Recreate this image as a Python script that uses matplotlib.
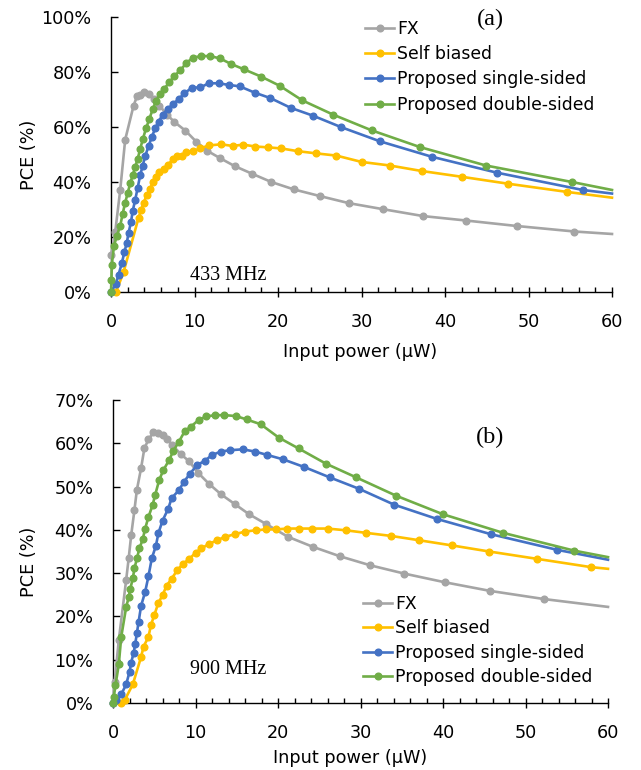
import matplotlib
matplotlib.use("Agg")
import matplotlib.pyplot as plt
from matplotlib.ticker import MultipleLocator, FuncFormatter

plt.rcParams['font.family'] = ['DejaVu Sans']

# ---------------- data (a) 433 MHz ----------------
fx_a_x = [0.05, 0.5, 1.1, 1.7, 2.7, 3.1, 3.5, 4.0, 4.5, 5.1, 5.8, 6.7, 7.6, 8.9, 10.2, 11.5, 13.1, 14.8, 16.9,
          19.2, 21.9, 25.0, 28.5, 32.6, 37.4, 42.5, 48.6, 55.5, 60]
fx_a_y = [13.5, 21.7, 37.0, 55.4, 67.7, 71.1, 71.6, 72.9, 72.0, 70.3, 67.8, 64.5, 61.8, 58.7, 54.7, 51.4, 48.6, 45.8,
          43.0, 40.0, 37.3, 34.9, 32.3, 30.1, 27.6, 26.0, 24.0, 22.0, 21.1]

sb_a_x = [0.6, 1.5, 3.3, 3.6, 3.9, 4.3, 4.7, 5.0, 5.4, 5.8, 6.3, 6.8, 7.4, 7.9, 8.5, 9.0, 9.8, 10.7, 11.7, 13.2,
          14.6, 15.8, 17.3, 18.8, 20.4, 22.4, 24.6, 27.0, 30.0, 33.4, 37.2, 42.0, 47.5, 54.6, 60]
sb_a_y = [0, 7.2, 27.0, 29.8, 32.5, 35.2, 37.6, 40.0, 42.0, 43.5, 44.8, 46.2, 48.2, 49.4, 49.6, 51.0, 51.2, 52.2,
          53.3, 53.7, 53.1, 53.6, 52.9, 52.6, 52.2, 51.2, 50.4, 49.6, 47.3, 46.0, 44.0, 41.9, 39.4, 36.4, 34.3]

ss_a_x = [0, 0.6, 0.9, 1.3, 1.6, 1.9, 2.1, 2.4, 2.6, 2.9, 3.2, 3.5, 3.8, 4.1, 4.5, 4.9, 5.3, 5.7, 6.2, 6.8,
          7.4, 8.1, 8.8, 9.7, 10.7, 11.7, 12.9, 14.1, 15.4, 17.2, 19.1, 21.5, 24.2, 27.6, 32.2, 38.4, 46.2, 56.5, 60]
ss_a_y = [0, 3.0, 6.3, 10.5, 14.5, 18.0, 21.5, 25.5, 29.5, 33.5, 38.0, 42.5, 46.0, 49.5, 53.0, 56.5, 59.5, 62.0,
          64.5, 66.5, 68.3, 70.1, 72.3, 74.3, 74.4, 75.9, 75.9, 75.3, 74.8, 72.5, 70.5, 67.0, 64.1, 59.9, 54.8,
          49.2, 43.4, 37.1, 35.8]

ds_a_x = [0, 0.05, 0.1, 0.35, 0.7, 1.1, 1.4, 1.7, 2.0, 2.3, 2.6, 2.9, 3.2, 3.5, 3.8, 4.2, 4.6, 5.0, 5.4, 5.9,
          6.4, 7.0, 7.6, 8.3, 9.0, 9.8, 10.8, 11.8, 13.0, 14.4, 15.9, 18.0, 20.2, 22.9, 26.6, 31.2, 37.0, 44.9,
          55.2, 60]
ds_a_y = [0, 4.2, 10.0, 16.6, 20.5, 24.0, 28.5, 32.5, 36.0, 39.5, 42.5, 45.5, 48.5, 52.0, 55.5, 59.5, 63.0, 66.5,
          69.5, 72.0, 74.0, 76.3, 78.6, 80.6, 83.2, 85.2, 85.8, 85.8, 85.0, 82.9, 81.0, 78.3, 75.0, 69.7, 64.5,
          58.8, 52.7, 46.0, 40.0, 37.1]

# ---------------- data (b) 900 MHz ----------------
fx_b_x = [0, 0.2, 0.7, 1.6, 1.9, 2.2, 2.6, 2.9, 3.4, 3.8, 4.3, 4.9, 5.5, 6.0, 6.6, 7.2, 8.2, 9.2, 10.3, 11.6, 13.1,
          14.8, 16.5, 18.6, 21.2, 24.2, 27.5, 31.2, 35.3, 40.2, 45.7, 52.3, 60]
fx_b_y = [0, 4.9, 14.5, 28.5, 33.4, 38.7, 44.6, 49.3, 54.2, 58.8, 60.9, 62.5, 62.3, 61.9, 60.9, 59.6, 57.5, 55.9,
          53.2, 50.7, 48.2, 45.9, 43.6, 41.3, 38.4, 36.1, 33.9, 31.8, 29.9, 27.9, 25.9, 24.0, 22.2]

sb_b_x = [1.0, 1.4, 2.4, 3.4, 3.7, 4.3, 4.6, 5.0, 5.5, 6.0, 6.5, 7.1, 7.8, 8.5, 9.2, 10.0, 10.7, 11.6, 12.6, 13.6,
          14.8, 16.0, 17.3, 18.6, 19.8, 21.1, 22.5, 24.1, 26.0, 28.2, 30.7, 33.7, 37.1, 41.1, 45.6, 51.4, 57.9, 60]
sb_b_y = [0, 0.6, 4.3, 10.6, 13.0, 15.3, 18.0, 20.3, 23.1, 24.9, 27.1, 28.7, 30.7, 32.2, 33.2, 34.7, 35.7, 36.7,
          37.6, 38.4, 39.0, 39.6, 39.9, 40.1, 40.1, 40.3, 40.3, 40.3, 40.3, 39.9, 39.3, 38.6, 37.6, 36.4, 35.0,
          33.3, 31.4, 31.0]

ss_b_x = [0, 0.4, 1.0, 1.6, 2.0, 2.2, 2.5, 2.7, 2.9, 3.1, 3.4, 3.9, 4.3, 4.7, 5.2, 5.5, 6.0, 6.7, 7.1, 8.0, 8.6,
          9.3, 10.2, 11.1, 12.0, 13.1, 14.2, 15.7, 17.2, 18.7, 20.6, 23.2, 26.3, 29.8, 34.1, 39.3, 45.8, 53.8, 60]
ss_b_y = [0, 0.6, 2.0, 4.3, 7.2, 9.3, 11.6, 13.7, 16.2, 18.7, 22.4, 25.7, 29.3, 33.4, 36.3, 39.2, 42.1, 44.9,
          47.3, 49.2, 51.1, 52.9, 55.0, 55.9, 57.3, 58.1, 58.4, 58.6, 58.1, 57.3, 56.3, 54.5, 52.1, 49.5, 45.8,
          42.5, 39.0, 35.4, 33.1]

ds_b_x = [0, 0.1, 0.3, 0.7, 1.0, 1.6, 1.9, 2.1, 2.4, 2.6, 2.9, 3.2, 3.6, 3.9, 4.3, 4.8, 5.1, 5.6, 6.1, 6.8,
          7.3, 8.0, 8.7, 9.4, 10.4, 11.3, 12.4, 13.5, 14.9, 16.2, 17.9, 20.1, 22.5, 25.8, 29.5, 34.3, 40.0, 47.3,
          55.9, 60]
ds_b_y = [0, 1.5, 4.1, 8.9, 15.3, 22.2, 24.4, 26.4, 28.8, 31.1, 33.4, 35.7, 37.8, 40.3, 43.0, 45.7, 48.0, 51.5,
          53.8, 56.1, 58.2, 60.4, 62.8, 63.8, 65.4, 66.2, 66.5, 66.5, 66.3, 65.5, 64.4, 61.3, 58.8, 55.3, 52.1,
          47.9, 43.6, 39.3, 35.2, 33.7]

labels = ["FX", "Self biased", "Proposed single-sided", "Proposed double-sided"]
colors = ["#A5A5A5", "#FFC000", "#4472C4", "#70AD47"]

W, H = 641, 770
fig = plt.figure(figsize=(W / 100, H / 100), dpi=100)


def px_axes(l, r, t, b):
    return fig.add_axes([l / W, 1 - b / H, (r - l) / W, (b - t) / H])


ax1 = px_axes(111, 612, 17, 292)
ax2 = px_axes(113, 608, 400, 703)

FS = 12.7


def style(ax, ymax, ystep):
    ax.set_xlim(0, 60)
    ax.set_ylim(0, ymax)
    ax.xaxis.set_major_locator(MultipleLocator(10))
    ax.xaxis.set_minor_locator(MultipleLocator(2))
    ax.yaxis.set_major_locator(MultipleLocator(ystep))
    ax.yaxis.set_major_formatter(FuncFormatter(lambda v, p: f"{v:.0f}%"))
    for s in ['top', 'right']:
        ax.spines[s].set_visible(False)
    for s in ['left', 'bottom']:
        ax.spines[s].set_linewidth(1.0)
        ax.spines[s].set_color('black')
    ax.tick_params(axis='x', which='major', direction='inout', length=7, width=1.0,
                   labelsize=FS, pad=11.5, colors='black')
    ax.tick_params(axis='x', which='minor', direction='in', length=3.5, width=1.0)
    ax.tick_params(axis='y', which='major', direction='in', length=5, width=1.0,
                   labelsize=FS, pad=14, colors='black')


def draw(ax, series):
    hs = []
    for (x, y), c, lab in zip(series, colors, labels):
        h, = ax.plot(x, y, color=c, lw=1.9, marker='o', ms=4.8, mec=c, mfc=c,
                     markevery=list(range(len(x) - 1)), label=lab, clip_on=False, zorder=3)
        hs.append(h)
    return hs


style(ax1, 100, 20)
style(ax2, 70, 10)
h1 = draw(ax1, [(fx_a_x, fx_a_y), (sb_a_x, sb_a_y), (ss_a_x, ss_a_y), (ds_a_x, ds_a_y)])
h2 = draw(ax2, [(fx_b_x, fx_b_y), (sb_b_x, sb_b_y), (ss_b_x, ss_b_y), (ds_b_x, ds_b_y)])

leg_kw = dict(frameon=False, fontsize=12.4, handlelength=1.7, handletextpad=0.15,
              labelspacing=0.42, borderpad=0, borderaxespad=0, loc='upper left',
              bbox_transform=fig.transFigure)
ax1.legend(handles=h1, bbox_to_anchor=(365 / W, 1 - 20 / H), **leg_kw)
ax2.legend(handles=h2, bbox_to_anchor=(363 / W, 1 - 595 / H), **dict(leg_kw, labelspacing=0.37))

serif = ['Liberation Serif', 'DejaVu Serif']
fig.text(490 / W, 1 - 19 / H, "(a)", family=serif, fontsize=17.5, ha='center', va='center')
fig.text(490 / W, 1 - 437 / H, "(b)", family=serif, fontsize=17.5, ha='center', va='center')
fig.text(228 / W, 1 - 276 / H, "433 MHz", family=serif, fontsize=14.5, ha='center', va='center')
fig.text(228 / W, 1 - 669 / H, "900 MHz", family=serif, fontsize=14.5, ha='center', va='center')

fig.text(360 / W, 1 - 352 / H, "Input power (µW)", fontsize=FS, ha='center', va='center')
fig.text(350 / W, 1 - 758 / H, "Input power (µW)", fontsize=FS, ha='center', va='center')
fig.text(29 / W, 1 - 155 / H, "PCE (%)", fontsize=FS, ha='center', va='center', rotation=90)
fig.text(29 / W, 1 - 562 / H, "PCE (%)", fontsize=FS, ha='center', va='center', rotation=90)

fig.savefig("out.png", dpi=100)
